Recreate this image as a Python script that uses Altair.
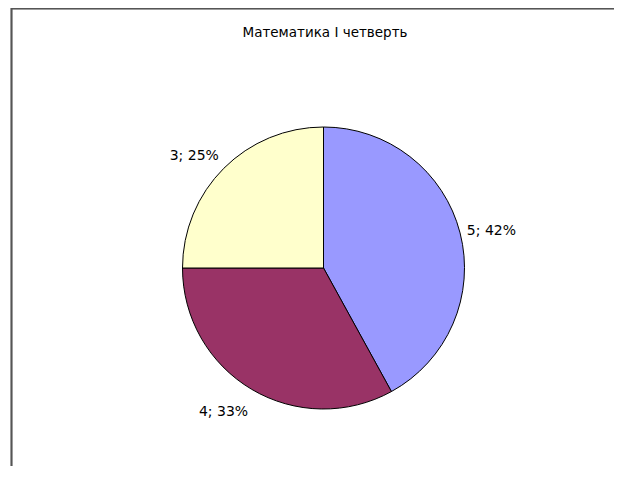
import altair as alt
import pandas as pd

title = "Математика I четверть"
grades = ["5", "4", "3"]
percents = [42, 33, 25]
colors = ["#9999FF", "#993366", "#FFFFCC"]

df = pd.DataFrame({
    "grade": grades,
    "percent": percents,
    "rank": list(range(len(grades))),
})
df["label"] = df["grade"] + "; " + df["percent"].astype(str) + "%"

W, H = 606, 458
CX, CY = 315.5, 260

base = alt.Chart(df).encode(
    theta=alt.Theta("percent:Q", stack=True),
    order=alt.Order("rank:Q"),
    x=alt.value(CX),
    y=alt.value(CY),
)

arcs = base.mark_arc(outerRadius=141, stroke="black", strokeWidth=1).encode(
    color=alt.Color("grade:N", scale=alt.Scale(domain=grades, range=colors), legend=None)
)

# label anchored outside the slice, text box corner toward the pie (like Excel "best fit")
anchors = {"5": ("left", "middle", 0), "4": ("right", "top", 10), "3": ("right", "bottom", 0)}
label_layers = []
for g in grades:
    al, bl, dy = anchors[g]
    label_layers.append(
        base.mark_text(radius=148, fontSize=14, font="DejaVu Sans", color="black",
                       align=al, baseline=bl, dy=dy)
        .encode(text="label:N", opacity=alt.condition(alt.datum.grade == g, alt.value(1), alt.value(0)))
    )

frame_top = alt.Chart(df).mark_rule(color="#555555", strokeWidth=1.5).encode(
    x=alt.value(3.5), x2=alt.value(W), y=alt.value(0.5)
)
frame_left = alt.Chart(df).mark_rule(color="#555555", strokeWidth=1.5).encode(
    x=alt.value(3.5), y=alt.value(0), y2=alt.value(H)
)

chart = alt.layer(frame_top, frame_left, arcs, *label_layers).properties(
    width=W,
    height=H,
    padding={"left": 0, "top": 0, "right": 0, "bottom": 0},
    autosize=alt.AutoSizeParams(type="none"),
    title=alt.TitleParams(title, font="DejaVu Sans", fontSize=13.5, fontWeight="normal",
                          color="black", anchor="middle", offset=-46, baseline="bottom",
                          dx=14),
).configure_view(stroke=None)

chart.save("out.html", embed_options={"renderer": "svg", "actions": False})
